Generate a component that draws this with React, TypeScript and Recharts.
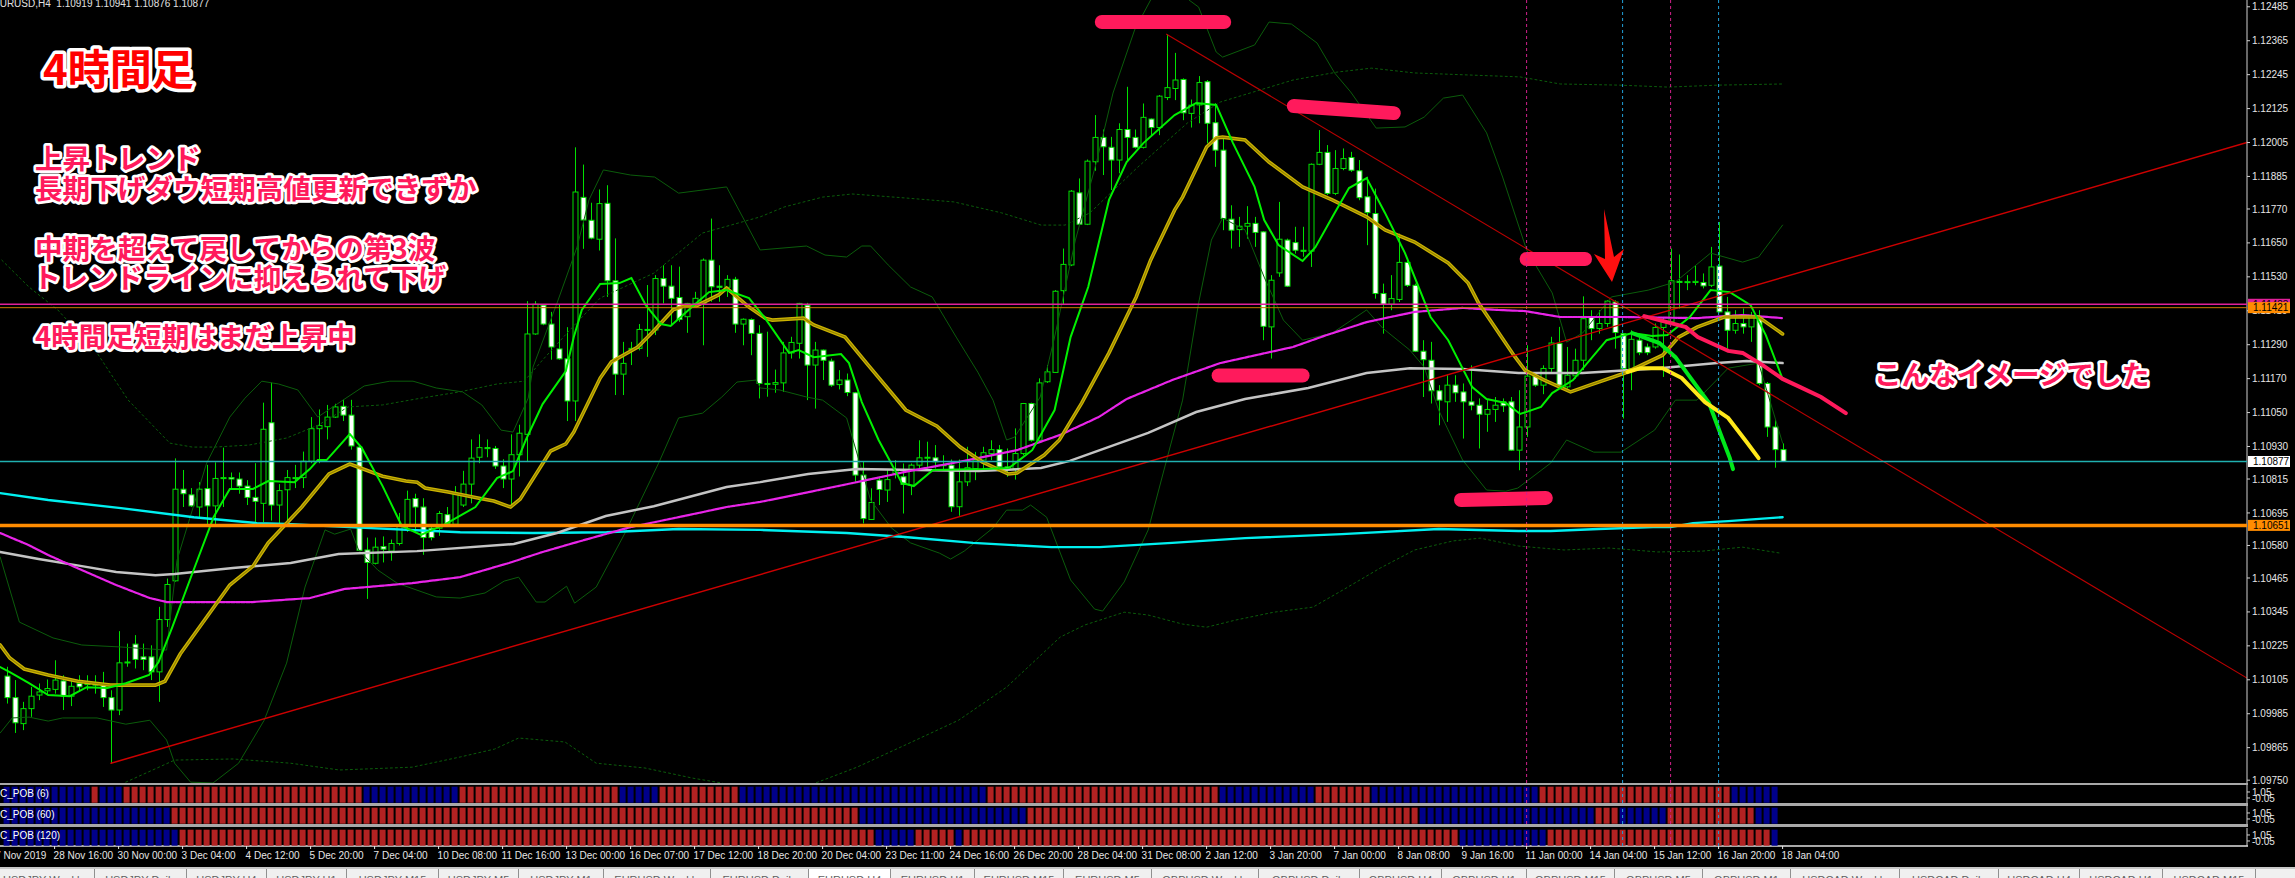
import { Bar, Cell, ComposedChart, Line, ReferenceLine, XAxis, YAxis } from "recharts"

// prices are stored in points: 110118 = 1.10118
const opens = [
  110118, 110042, 109950, 110003, 110051, 110066, 110071, 110101, 110047, 110092,
  110088, 110092, 110086, 110042, 109998, 110165, 110231, 110186, 110186, 110133,
  110318, 110455, 110779, 110759, 110716, 110781, 110720, 110817, 110820, 110815,
  110790, 110750, 110729, 111014, 110723, 110777, 110817, 110820, 110878, 110993,
  111000, 111034, 111072, 111041, 110928, 110564, 110517, 110576, 110560, 110587,
  110651, 110746, 110716, 110641, 110641, 110689, 110655, 110723, 110797, 110892,
  110926, 110923, 110861, 110815, 110901, 110973, 111328, 111430, 111363, 111275,
  111240, 111091, 111811, 111730, 111663, 111790, 111516, 111186, 111273, 111277,
  111344, 111342, 111524, 111497, 111457, 111389, 111436, 111436, 111589, 111497,
  111493, 111521, 111363, 111379, 111330, 111153, 111150, 111155, 111261, 111295,
  111430, 111218, 111271, 111232, 111149, 111165, 111120, 110829, 110672, 110811,
  110776, 110835, 110823, 110793, 110864, 110890, 110890, 110866, 110864, 110717,
  110805, 110852, 110882, 110905, 110919, 110858, 110852, 110905, 111082, 110952,
  111159, 111192, 111481, 111572, 111827, 111716, 111937, 112023, 111988, 111943,
  112051, 112023, 111988, 112088, 112058, 112164, 112196, 112228, 112108, 112138,
  112220, 112075, 111978, 111734, 111697, 111709, 111719, 111689, 111353, 111544,
  111660, 111651, 111624, 111621, 111928, 111970, 111825, 111913, 111952, 111905,
  111813, 111754, 111471, 111433, 111450, 111581, 111500, 111267, 111235, 111127,
  111088, 111147, 111123, 111088, 111076, 111044, 111061, 111088, 111088, 110917,
  110999, 111179, 111147, 111206, 111294, 111141, 111180, 111235, 111388, 111347,
  111365, 111441, 111329, 111206, 111306, 111282, 111282, 111351, 111371, 111514,
  111511, 111510, 111510, 111500, 111568, 111406, 111341, 111365, 111353, 111388,
  111153, 110999, 110919,
]
const highs = [
  110151, 110104, 110027, 110080, 110092, 110106, 110174, 110121, 110104, 110121,
  110121, 110121, 110133, 110068, 110277, 110233, 110263, 110233, 110227, 110363,
  110463, 110888, 110847, 110783, 110804, 110865, 110874, 110926, 110838, 110838,
  110811, 110871, 111085, 111156, 110797, 110847, 110865, 110912, 111034, 111061,
  111077, 111081, 111095, 111095, 110932, 110608, 110608, 110612, 110601, 110695,
  110774, 110763, 110747, 110655, 110702, 110716, 110790, 110844, 110955, 110973,
  110955, 110932, 110885, 110973, 111007, 111444, 111444, 111433, 111406, 111433,
  111352, 111988, 111927, 111792, 111839, 111854, 111666, 111300, 111300, 111363,
  111501, 111536, 111571, 111571, 111566, 111438, 111477, 111595, 111736, 111571,
  111536, 111530, 111383, 111383, 111359, 111336, 111202, 111300, 111318, 111438,
  111438, 111300, 111273, 111241, 111200, 111188, 111123, 110876, 110782, 110823,
  110846, 110882, 110870, 110870, 110952, 110947, 110935, 110899, 110884, 110884,
  110929, 110911, 110929, 110952, 110935, 110923, 110994, 111084, 111085, 111171,
  111218, 111483, 111630, 111837, 111878, 111945, 112102, 112051, 112025, 112073,
  112202, 112051, 112143, 112090, 112173, 112388, 112322, 112232, 112157, 112240,
  112226, 112144, 112025, 111783, 111742, 111780, 111742, 111692, 111536, 111795,
  111665, 111707, 111707, 111931, 112049, 111996, 111978, 111984, 111972, 111943,
  111884, 111842, 111506, 111536, 111683, 111589, 111506, 111306, 111300, 111147,
  111182, 111182, 111153, 111217, 111100, 111094, 111105, 111100, 111105, 111129,
  111288, 111188, 111217, 111318, 111353, 111282, 111276, 111461, 111412, 111412,
  111447, 111447, 111331, 111341, 111329, 111294, 111365, 111388, 111630, 111609,
  111536, 111571, 111542, 111636, 111724, 111459, 111412, 111418, 111406, 111412,
  111158, 111023, 110941,
]
const lows = [
  110021, 109917, 109927, 109974, 110033, 110051, 110056, 109998, 110012, 110062,
  110068, 110056, 110009, 109809, 109980, 110151, 110145, 110139, 110104, 110027,
  110292, 110452, 110716, 110716, 110675, 110655, 110655, 110716, 110783, 110763,
  110723, 110662, 110662, 110668, 110655, 110662, 110783, 110783, 110871, 110871,
  110955, 111031, 111020, 110919, 110560, 110391, 110513, 110520, 110526, 110580,
  110628, 110628, 110547, 110598, 110614, 110648, 110655, 110716, 110729, 110871,
  110892, 110851, 110783, 110716, 110824, 110878, 111325, 111359, 111237, 111237,
  111020, 111020, 111629, 111663, 111623, 111459, 111112, 111112, 111218, 111270,
  111247, 111324, 111436, 111359, 111371, 111332, 111430, 111288, 111442, 111442,
  111459, 111332, 111288, 111253, 111100, 111106, 111120, 111123, 111241, 111241,
  111094, 111064, 111165, 111141, 111132, 111108, 110805, 110658, 110670, 110723,
  110734, 110817, 110693, 110758, 110852, 110852, 110852, 110846, 110699, 110685,
  110790, 110811, 110852, 110882, 110852, 110823, 110813, 110899, 110947, 110947,
  111155, 111191, 111433, 111568, 111713, 111713, 111905, 111890, 111837, 111896,
  111943, 111984, 111984, 112031, 112031, 112155, 112155, 112084, 112058, 112073,
  112002, 111919, 111695, 111630, 111636, 111665, 111636, 111306, 111241, 111530,
  111494, 111612, 111601, 111565, 111925, 111819, 111819, 111907, 111901, 111801,
  111642, 111453, 111329, 111412, 111441, 111494, 111265, 111105, 111082, 111005,
  111017, 111088, 110958, 111058, 110923, 110982, 111017, 111052, 110915, 110846,
  110964, 111141, 111115, 111194, 111141, 111135, 111170, 111200, 111306, 111329,
  111353, 111276, 111029, 111129, 111253, 111253, 111276, 111176, 111365, 111418,
  111483, 111500, 111489, 111494, 111404, 111276, 111329, 111329, 111300, 111147,
  110964, 110855, 110876,
]
const closes = [
  110042, 109953, 110003, 110047, 110062, 110074, 110104, 110047, 110082, 110080,
  110094, 110086, 110042, 109998, 110165, 110168, 110177, 110177, 110133, 110318,
  110442, 110779, 110763, 110720, 110779, 110720, 110817, 110820, 110815, 110790,
  110750, 110736, 110991, 110723, 110774, 110820, 110820, 110878, 110993, 111004,
  111034, 111070, 111041, 110932, 110563, 110520, 110574, 110567, 110587, 110651,
  110743, 110716, 110608, 110608, 110693, 110658, 110763, 110797, 110889, 110926,
  110924, 110861, 110815, 110901, 110977, 111328, 111433, 111363, 111282, 111240,
  111091, 111830, 111731, 111667, 111789, 111516, 111186, 111224, 111277, 111344,
  111342, 111524, 111497, 111454, 111379, 111436, 111454, 111589, 111495, 111493,
  111521, 111363, 111380, 111330, 111153, 111150, 111156, 111261, 111298, 111436,
  111218, 111271, 111235, 111147, 111165, 111121, 110829, 110675, 110732, 110778,
  110813, 110849, 110796, 110864, 110890, 110892, 110876, 110862, 110717, 110805,
  110855, 110882, 110908, 110919, 110858, 110852, 110905, 111082, 110952, 111155,
  111194, 111479, 111574, 111833, 111716, 111939, 112023, 111990, 111943, 112051,
  112023, 111988, 112094, 112058, 112169, 112199, 112226, 112110, 112137, 112217,
  112073, 111978, 111736, 111695, 111709, 111719, 111687, 111355, 111518, 111663,
  111497, 111624, 111621, 111928, 111970, 111825, 111913, 111948, 111907, 111810,
  111757, 111471, 111433, 111453, 111581, 111500, 111267, 111237, 111127, 111094,
  111147, 111120, 111088, 111076, 111044, 111061, 111076, 111074, 110917, 110999,
  111179, 111147, 111206, 111296, 111147, 111182, 111235, 111382, 111347, 111365,
  111444, 111333, 111206, 111309, 111262, 111262, 111351, 111371, 111516, 111510,
  111513, 111514, 111498, 111565, 111406, 111341, 111365, 111353, 111388, 111153,
  110999, 110919, 110877,
]

// indicator knots: [bar, points]
const fastMa = [
  [-0.8, 110150], [0.4, 110132], [2.8, 110093], [5.2, 110051], [7.9, 110047], [10, 110079], [12.6, 110076], [14.9, 110093],
  [17.8, 110122], [19, 110168], [20.7, 110290], [23, 110465], [25.9, 110682], [27.9, 110780], [30.8, 110780], [32.7, 110808],
  [36, 110804], [37.9, 110850], [38.9, 110882], [40, 110882], [42.9, 110974], [44.4, 110925], [47, 110790], [49.4, 110649],
  [51.8, 110617], [54.9, 110656], [58.6, 110716], [61.3, 110818], [63.3, 110843], [64.9, 110953], [67, 111080], [69.9, 111197],
  [70.9, 111317], [71.9, 111413], [74.2, 111505], [76.6, 111508], [78.1, 111526], [79.9, 111430], [81.8, 111363], [83, 111356],
  [86.2, 111437], [87.8, 111476], [90, 111483], [92.8, 111455], [94.8, 111384], [97.8, 111261], [99, 111271], [100.9, 111246],
  [104.3, 111257], [105.3, 111225], [106.9, 111087], [109, 110953], [111.9, 110801], [113.4, 110790], [115.8, 110847], [122, 110850],
  [125.3, 110854], [128.2, 110917], [131, 111059], [133, 111317], [135.2, 111494], [137.8, 111802], [140, 111936], [142.1, 112003],
  [146, 112102], [148.7, 112145], [151.2, 112138], [153.3, 112003], [156, 111848], [157.2, 111731], [159, 111642], [162, 111586],
  [163.6, 111635], [166, 111756], [167.8, 111844], [170, 111879], [172.3, 111756], [174.8, 111614], [178, 111388], [180.2, 111306],
  [183.2, 111140], [185, 111098], [187.4, 111084], [189.2, 111045], [191.8, 111070], [193.2, 111119], [195.8, 111165], [200, 111306],
  [203.2, 111331], [205.7, 111321], [207.6, 111324], [210.4, 111388], [213, 111483], [215.4, 111476], [218, 111430], [219.9, 111324],
  [221.9, 111176],
]
const midMa = [
  [-0.8, 110228], [0.4, 110182], [2.2, 110143], [5.2, 110122], [8.9, 110100], [13, 110086], [18.6, 110086], [19.8, 110100],
  [21.7, 110196], [27.9, 110440], [30.8, 110507], [32.7, 110589], [36.9, 110716], [40.3, 110833], [42.9, 110868], [47, 110825],
  [49.9, 110808], [51.3, 110804], [52.3, 110783], [55.2, 110769], [58.9, 110748], [60.9, 110737], [63, 110716], [64.2, 110744],
  [68, 110914], [69.9, 110939], [70.9, 110981], [74.2, 111172], [75.6, 111229], [78.9, 111282], [81, 111342], [83.3, 111413],
  [84.7, 111427], [86.2, 111427], [89, 111466], [90, 111490], [92.8, 111423], [94.8, 111384], [95.7, 111377], [99.6, 111384],
  [100.9, 111360], [104.8, 111317], [107.7, 111218], [112.4, 111059], [116.3, 111002], [119.2, 110928], [122, 110875], [125.2, 110833],
  [126.3, 110836], [129.7, 110900], [131.6, 110953], [134.4, 111084], [137.8, 111261], [141.2, 111459], [143, 111589], [146, 111766],
  [147, 111812], [150, 111989], [151.2, 112021], [152, 112024], [154.8, 112014], [157.8, 111936], [162, 111848], [165.7, 111802],
  [170, 111742], [172.3, 111696], [176, 111653], [180.2, 111579], [182.7, 111508], [184, 111437], [188.4, 111253], [189.8, 111200],
  [192.2, 111165], [195.5, 111123], [197.9, 111147], [202.3, 111190], [207, 111253], [209, 111317], [211.3, 111352], [214.7, 111388],
  [219, 111388], [222, 111328],
]
const slowMa = [
  [-0.8, 110624], [2.8, 110581], [5.2, 110546], [9.4, 110493], [13.7, 110440], [17.9, 110394], [20, 110380], [30.7, 110380],
  [37.9, 110394], [42.2, 110426], [50.7, 110447], [56.7, 110468], [62.8, 110518], [67, 110557], [71.3, 110592], [78, 110645],
  [84, 110680], [90, 110716], [94.2, 110734], [97.2, 110751], [106.3, 110804], [112.3, 110840], [120.2, 110882], [126.3, 110917],
  [131.7, 110971], [136.5, 111034], [140, 111098], [145.7, 111165], [151.7, 111225], [160.8, 111282], [165, 111324], [170, 111370],
  [176, 111406], [182, 111420], [186.3, 111413], [189.8, 111409], [194.2, 111388], [201.8, 111388], [211.3, 111384], [217, 111395],
  [222, 111384],
]
const greyMa = [
  [-0.8, 110557], [4, 110532], [9.4, 110507], [13.7, 110486], [18.6, 110475], [21, 110479], [28.3, 110500], [35.5, 110518],
  [41.5, 110550], [51.3, 110560], [63.4, 110585], [68.8, 110624], [74.9, 110684], [80.9, 110719], [90, 110787], [94.2, 110804],
  [100.2, 110833], [106.3, 110850], [121.5, 110843], [129.3, 110854], [132.9, 110879], [142.7, 110978], [148.7, 111052], [154.8, 111098],
  [162.7, 111137], [170, 111190], [175.4, 111207], [182, 111204], [189, 111190], [197, 111190], [206.6, 111207], [213.8, 111225],
  [217.5, 111232], [222, 111225],
]
const cyanMa = [
  [-0.8, 110765], [5.2, 110741], [14.3, 110712], [23.4, 110680], [31.3, 110659], [35, 110656], [42.9, 110645], [56.7, 110627],
  [65.8, 110624], [75, 110627], [84, 110638], [94.2, 110635], [105, 110624], [112.3, 110610], [120.8, 110589], [130.6, 110574],
  [136.6, 110574], [145.7, 110589], [154.8, 110606], [166.9, 110620], [179, 110638], [189, 110631], [193, 110631], [199, 110638],
  [205.8, 110645], [208, 110645], [210.8, 110659], [215.2, 110666], [222, 110680],
]
const bandUpper = [
  [-0.8, 110539], [1.6, 110309], [5.8, 110253], [9.4, 110228], [14.3, 110221], [17.9, 110214], [20, 110210], [21.3, 110528],
  [25, 110871], [27.9, 111034], [29.8, 111101], [31.9, 111161], [34, 111151], [36.4, 111130], [38.9, 111034], [41.3, 111080],
  [44.7, 111144], [47.9, 111161], [50.8, 111161], [53.7, 111137], [57, 111123], [59.4, 111077], [61.8, 110988], [63.3, 110981],
  [65.2, 111101], [65.8, 111211], [68.8, 111437], [71.3, 111635], [72.8, 111802], [74.6, 111908], [78, 111890], [81, 111883],
  [84, 111826], [90, 111848], [94.2, 111625], [100, 111639], [102.3, 111607], [105, 111600], [106.9, 111639], [108, 111639],
  [110.2, 111572], [113, 111494], [115.7, 111459], [118.7, 111317], [121.4, 111193], [123.3, 111094], [125, 110953], [126, 110963],
  [129.2, 111105], [131, 111317], [133.6, 111660], [136.3, 111943], [138.3, 112180], [141, 112403], [143, 112509], [145.5, 112580],
  [147.8, 112509], [149, 112484], [151.2, 112325], [152, 112307], [156, 112350], [157.8, 112431], [160.6, 112424], [163.8, 112357],
  [166, 112251], [168, 112184], [171.2, 112056], [174.8, 112060], [177.2, 112095], [179.6, 112162], [182, 112173], [185, 112039],
  [187, 111883], [190, 111625], [193.2, 111473], [195, 111299], [197, 111331], [200.6, 111459], [205.2, 111483], [208.6, 111512],
  [213, 111614], [217, 111582], [219, 111600], [222, 111713],
]
const bandLower = [
  [-0.8, 109917], [0.7, 109970], [2.8, 109973], [5.2, 109959], [7, 109970], [11.3, 109970], [14.9, 109948], [17.9, 109962],
  [20, 109892], [21, 109810], [23, 109743], [25.8, 109740], [29, 109810], [32.2, 109962], [35, 110164], [37.3, 110433],
  [39.8, 110635], [41, 110620], [43, 110638], [44, 110564], [46.4, 110493], [48.8, 110447], [53.7, 110398], [56.7, 110394],
  [59.8, 110412], [62.2, 110454], [64, 110468], [66.2, 110380], [67.3, 110380], [70, 110436], [71, 110376], [73.7, 110433],
  [77.3, 110624], [81.5, 110871], [84, 111031], [87, 111048], [89.4, 111105], [91.3, 111158], [93.7, 111165], [94.2, 111137],
  [96.6, 111130], [100, 111105], [102, 111094], [105, 111031], [108, 110741], [110.6, 110642], [113, 110589], [116.6, 110553],
  [118, 110532], [119.7, 110560], [123.3, 110642], [125, 110705], [127, 110705], [128, 110723], [130, 110680], [133, 110458],
  [136, 110355], [137, 110348], [139.7, 110451], [142.7, 110635], [145, 110882], [147, 111094], [149, 111437], [150.6, 111660],
  [152, 111738], [154.8, 111696], [157.2, 111529], [159.6, 111377], [162, 111306], [165.7, 111331], [170, 111413], [172, 111349],
  [175.4, 111271], [177.2, 111211], [179, 111059], [182, 110882], [185, 110776], [187.4, 110772], [188.9, 110783], [193, 110871],
  [195, 110953], [198.4, 110910], [201.8, 110910], [206, 110988], [208.6, 111094], [211.3, 111094], [215.2, 111207], [219, 111225],
  [219.9, 111140], [222, 110942],
]
const outerUpper = [
  [-0.6, 111589], [2.8, 111494], [6.4, 111413], [11.3, 111261], [15.2, 111094], [20.4, 110942], [23.2, 110928], [26, 110928],
  [30.3, 110935], [35, 110960], [39, 111006], [42.7, 111070], [47, 111077], [51.8, 111101], [56.6, 111123], [61.3, 111151],
  [64.7, 111161], [67, 111236], [71, 111360], [74.2, 111455], [80.9, 111543], [87, 111685], [94.2, 111742], [97.2, 111777],
  [102, 111812], [105.7, 111823], [112.3, 111809], [118.4, 111795], [124.4, 111756], [129.3, 111713], [132.3, 111713], [135.4, 111756],
  [141.4, 111918], [147.6, 112074], [151.7, 112148], [160.8, 112226], [166.3, 112254], [170.6, 112268], [176, 112251], [189.2, 112237],
  [194.2, 112212], [201.5, 112208], [207.7, 112201], [214, 112208], [222, 112212],
]
const outerLower = [
  [14.9, 109743], [21, 109821], [28.3, 109825], [35.5, 109810], [41.6, 109786], [50.7, 109796], [56.7, 109832], [61, 109860],
  [64, 109899], [69.8, 109885], [73.7, 109810], [79.8, 109793], [85.8, 109757], [89.4, 109740], [95, 109680], [101.4, 109743],
  [106.3, 109796], [112.3, 109874], [119, 109962], [125, 110079], [131.7, 110256], [134.8, 110299], [139.7, 110344], [142.7, 110334],
  [147, 110302], [150, 110291], [153.6, 110316], [158.4, 110344], [163.3, 110362], [167, 110422], [171.7, 110500], [176, 110564],
  [180.8, 110596], [184.2, 110606], [189, 110578], [194.7, 110564], [200.3, 110571], [206.4, 110557], [212, 110560], [217, 110574],
  [221.7, 110553],
]
const trendUp = [[13.05, 109810], [280.05, 112005]]
const trendDown = [[145, 112388], [280.05, 110111]]

// hand-drawn marks on the chart
const sketchGreen = [[203.2, 111331], [206.6, 111296], [208.6, 111246], [210.4, 111176], [212.8, 111084], [214.2, 110978], [215.4, 110889], [215.8, 110850]]
const sketchYellow = [[202.6, 111193], [204.2, 111207], [207, 111207], [209.4, 111172], [212.3, 111087], [215.2, 111031], [217.5, 110946], [219, 110889]]
const sketchPink = [[204.7, 111391], [209.9, 111352], [211.4, 111317], [215.2, 111268], [217, 111261], [219.5, 111218], [222, 111169], [224.2, 111140], [226.8, 111105], [229.9, 111048]]
const pinkBars = [
  [[136.9, 112431], [152.2, 112431]],
  [[160.9, 112134], [173.4, 112109]],
  [[190, 111593], [197.3, 111593]],
  [[151.5, 111181], [162, 111181]],
  [[181.8, 110741], [192.4, 110748]],
]

const priceTicks = [
  1.12485, 1.12365, 1.12245, 1.12125, 1.12005, 1.11885, 1.1177, 1.1165, 1.1153, 1.1141, 1.1129, 1.1117,
  1.1105, 1.1093, 1.10815, 1.10695, 1.1058, 1.10465, 1.10345, 1.10225, 1.10105, 1.09985, 1.09865, 1.0975,
]
const timeTicks = [-2, 6, 14, 22, 30, 38, 46, 54, 62, 70, 78, 86, 94, 102, 110, 118, 126, 134, 142, 150, 158, 166, 174, 182, 190, 198, 206, 214, 222]
const timeLabels = [
  "27 Nov 2019", "28 Nov 16:00", "30 Nov 00:00", "3 Dec 04:00", "4 Dec 12:00", "5 Dec 20:00", "7 Dec 04:00", "10 Dec 08:00",
  "11 Dec 16:00", "13 Dec 00:00", "16 Dec 07:00", "17 Dec 12:00", "18 Dec 20:00", "20 Dec 04:00", "23 Dec 11:00", "24 Dec 16:00",
  "26 Dec 20:00", "28 Dec 04:00", "31 Dec 08:00", "2 Jan 12:00", "3 Jan 20:00", "7 Jan 00:00", "8 Jan 08:00", "9 Jan 16:00",
  "11 Jan 00:00", "14 Jan 04:00", "15 Jan 12:00", "16 Jan 20:00", "18 Jan 04:00",
]
const pinkSessions = [190, 208]
const blueSessions = [202, 214]

// [red?, how many bars] from the first bar on
const pob6Runs = [[0, 11], [1, 1], [0, 3], [1, 30], [0, 12], [1, 20], [0, 5], [1, 10], [0, 31], [1, 29], [0, 12], [1, 7], [0, 21], [1, 24], [0, 6]]
const pob60Runs = [[0, 21], [1, 86], [0, 21], [1, 49], [0, 22], [1, 3], [0, 6], [1, 11], [0, 3]]
const pob120Runs = [[0, 22], [1, 87], [0, 5], [1, 5], [0, 1], [1, 62], [0, 11], [1, 28], [0, 1]]

const tabNames = [
  "USDJPY Weekly", "USDJPY Daily", "USDJPY H4", "USDJPY H1", "USDJPY M15", "USDJPY M5", "USDJPY M1", "EURUSD Weekly", "EURUSD Daily", "EURUSD H4",
  "EURUSD H1", "EURUSD M15", "EURUSD M5", "GBPUSD Weekly", "GBPUSD Daily", "GBPUSD H4", "GBPUSD H1", "GBPUSD M15", "GBPUSD M5", "GBPUSD M1",
  "USDCAD Weekly", "USDCAD Daily", "USDCAD H4", "USDCAD H1", "USDCAD M15",
]
const tabEdges = [-6, 95, 187, 267, 347, 439, 519, 604, 711, 809, 891, 975, 1064, 1152, 1259, 1360, 1442, 1527, 1615, 1703, 1791, 1900, 1999, 2080, 2163, 2256]

const FONT = '"Liberation Sans", Arial, sans-serif'
const JP_FONT = '"Noto Sans CJK JP", sans-serif'
const X_DOMAIN = [-0.825, 280.05]
const PRICE_DOMAIN = [1.0974, 1.12509]
const PINK = "#ff1a5c"

const candleRows = opens.map((open, k) => ({
  k,
  open: open / 1e5,
  high: highs[k] / 1e5,
  low: lows[k] / 1e5,
  close: closes[k] / 1e5,
}))

const toPoints = (knots: number[][]) => knots.map(([k, p]) => ({ k, p: p / 1e5 }))

const expandRuns = (runs: number[][]) => {
  const rows: { k: number; red: number; span: number[] }[] = []
  runs.forEach(([red, count]) => {
    for (let i = 0; i < count; i++) rows.push({ k: rows.length, red, span: [-0.92, 2.02] })
  })
  return rows
}

const lineStyles = [
  { knots: outerUpper, stroke: "#0b5c0b", width: 1, dash: "2 3" },
  { knots: outerLower, stroke: "#0b5c0b", width: 1, dash: "2 3" },
  { knots: bandUpper, stroke: "#0b5c0b", width: 1 },
  { knots: bandLower, stroke: "#0b5c0b", width: 1 },
  { knots: cyanMa, stroke: "#00f0f0", width: 2.4 },
  { knots: greyMa, stroke: "#c4c4c4", width: 2.5 },
  { knots: slowMa, stroke: "#e824e8", width: 2.2, dash: "4 1" },
  { knots: midMa, stroke: "#ccb400", width: 3.6 },
  { knots: midMa, stroke: "#928000", width: 1.1 },
  { knots: fastMa, stroke: "#00f000", width: 2 },
  { knots: trendUp, stroke: "#cc0000", width: 1.4 },
  { knots: trendDown, stroke: "#b80000", width: 1.2 },
  { knots: sketchGreen, stroke: "#00e81a", width: 4 },
  { knots: sketchYellow, stroke: "#ffe81a", width: 4 },
  { knots: sketchPink, stroke: PINK, width: 4 },
  ...pinkBars.map((knots) => ({ knots, stroke: PINK, width: 14 })),
]

const Candle = (props: any) => {
  const { x, y, width, height, payload } = props
  const { open, close, high, low } = payload
  const perUnit = height / (high - low)
  const center = Math.round(x + width / 2) + 0.5
  const top = y + (high - Math.max(open, close)) * perUnit
  const bodyHeight = Math.max(Math.abs(open - close) * perUnit, 1)
  return (
    <g>
      <line x1={center} x2={center} y1={y} y2={y + height} stroke="#00e000" strokeWidth={1} />
      <rect
        x={center - 2.5}
        y={top}
        width={5}
        height={bodyHeight}
        fill={close < open ? "#ffffff" : "#000000"}
        stroke="#00e000"
        strokeWidth={1}
      />
    </g>
  )
}

const PriceTag = ({ viewBox, text, fill, color }: any) => {
  const tagX = viewBox.x + viewBox.width + 1
  return (
    <g>
      <rect x={tagX} y={viewBox.y - 5.5} width={42} height={11} fill={fill} />
      <text x={tagX + 5} y={viewBox.y + 3.6} fill={color} fontSize={10} fontFamily={FONT}>
        {text}
      </text>
    </g>
  )
}

const TimeTick = ({ x, y, payload }: any) => (
  <text x={x - 1} y={y + 8} fill="#e6e6e6" fontSize={10} fontFamily={FONT}>
    {timeLabels[timeTicks.indexOf(payload.value)]}
  </text>
)

const PobPanel = ({ runs, top, withTime }: { runs: number[][]; top: number; withTime?: boolean }) => (
  <div style={{ position: "absolute", left: 0, top }}>
    <ComposedChart
      width={2295}
      height={withTime ? 42 : 18}
      data={expandRuns(runs)}
      margin={{ top: 0, right: 0, bottom: 0, left: 0 }}
    >
      <XAxis
        dataKey="k"
        type="number"
        domain={X_DOMAIN}
        allowDataOverflow
        hide={!withTime}
        ticks={timeTicks}
        interval={0}
        height={24}
        tickSize={3}
        tickMargin={2}
        axisLine={false}
        tickLine={{ stroke: "#e6e6e6" }}
        tick={<TimeTick />}
      />
      <YAxis
        orientation="right"
        width={48}
        type="number"
        domain={[-0.97, 2.33]}
        ticks={[1.05, -0.05]}
        interval={0}
        tickSize={3}
        tickMargin={2}
        tick={{ fill: "#e6e6e6", fontSize: 10, fontFamily: FONT }}
        axisLine={{ stroke: "#d0d0d0" }}
        tickLine={{ stroke: "#d0d0d0" }}
      />
      <Bar dataKey="span" barSize={6} isAnimationActive={false}>
        {expandRuns(runs).map((row) => (
          <Cell key={row.k} fill={row.red ? "#b22222" : "#00008b"} />
        ))}
      </Bar>
      {pinkSessions.map((k) => (
        <ReferenceLine key={k} x={k} stroke="#d0208a" strokeDasharray="3 3" />
      ))}
      {blueSessions.map((k) => (
        <ReferenceLine key={k} x={k} stroke="#20a0d8" strokeDasharray="3 3" />
      ))}
    </ComposedChart>
  </div>
)

const outlined = { stroke: "#ffffff", strokeLinejoin: "round" as const, paintOrder: "stroke", fontFamily: JP_FONT, fontWeight: 700 }

const notes = [
  { text: "上昇トレンド", x: 35, y: 169 },
  { text: "長期下げダウ短期高値更新できずか", x: 35, y: 199 },
  { text: "中期を超えて戻してからの第3波", x: 35, y: 259 },
  { text: "トレンドラインに抑えられて下げ", x: 33, y: 288 },
  { text: "4時間足短期はまだ上昇中", x: 35, y: 347 },
  { text: "こんなイメージでした", x: 1874, y: 385 },
]

const separators = [
  { top: 783, height: 2 },
  { top: 803, height: 3 },
  { top: 824, height: 3 },
  { top: 845, height: 2 },
]

export default function App() {
  return (
    <div style={{ position: "fixed", left: 0, top: 0, width: 2295, height: 878, background: "#000", overflow: "hidden" }}>
      <div style={{ position: "absolute", left: 0, top: 0 }}>
        <ComposedChart width={2295} height={793} data={candleRows} margin={{ top: 0, right: 0, bottom: 10, left: 0 }}>
          <XAxis dataKey="k" type="number" domain={X_DOMAIN} allowDataOverflow hide />
          <YAxis
            orientation="right"
            width={48}
            type="number"
            domain={PRICE_DOMAIN}
            allowDataOverflow
            ticks={priceTicks}
            interval={0}
            tickFormatter={(v: number) => v.toFixed(5)}
            tickSize={3}
            tickMargin={2}
            tick={{ fill: "#e6e6e6", fontSize: 10, fontFamily: FONT }}
            axisLine={{ stroke: "#d0d0d0" }}
            tickLine={{ stroke: "#d0d0d0" }}
          />
          <Bar dataKey={(row: any) => [row.low, row.high]} barSize={6} shape={<Candle />} isAnimationActive={false} />
          {lineStyles.map((s, i) => (
            <Line
              key={i}
              data={toPoints(s.knots)}
              dataKey="p"
              type="linear"
              stroke={s.stroke}
              strokeWidth={s.width}
              strokeDasharray={s.dash}
              strokeLinecap="round"
              dot={false}
              activeDot={false}
              isAnimationActive={false}
            />
          ))}
          {pinkSessions.map((k) => (
            <ReferenceLine key={k} x={k} stroke="#d0208a" strokeDasharray="3 3" />
          ))}
          {blueSessions.map((k) => (
            <ReferenceLine key={k} x={k} stroke="#20a0d8" strokeDasharray="3 3" />
          ))}
        </ComposedChart>
      </div>

      {/* second layer so the price tags sit above the axis labels */}
      <div style={{ position: "absolute", left: 0, top: 0 }}>
        <ComposedChart width={2295} height={793} data={candleRows} margin={{ top: 0, right: 48, bottom: 10, left: 0 }}>
          <XAxis dataKey="k" type="number" domain={X_DOMAIN} allowDataOverflow hide />
          <YAxis type="number" domain={PRICE_DOMAIN} allowDataOverflow hide />
          <ReferenceLine y={1.11433} stroke="#e0209a" strokeWidth={1.5} label={<PriceTag text="1.11433" fill="#e0209a" color="#000" />} />
          <ReferenceLine y={1.11421} stroke="#c87800" strokeWidth={1} label={<PriceTag text="1.11421" fill="#ff8c00" color="#000" />} />
          <ReferenceLine y={1.10877} stroke="#20b0b0" strokeWidth={1.5} label={<PriceTag text="1.10877" fill="#ffffff" color="#000" />} />
          <ReferenceLine y={1.10651} stroke="#ff8c00" strokeWidth={3.5} label={<PriceTag text="1.10651" fill="#ff8c00" color="#000" />} />
        </ComposedChart>
      </div>

      {separators.map((s) => (
        <div key={s.top} style={{ position: "absolute", left: 0, top: s.top, width: 2248, height: s.height, background: "#a8a8a8" }} />
      ))}
      <PobPanel runs={pob6Runs} top={785} />
      <PobPanel runs={pob60Runs} top={806.2} />
      <PobPanel runs={pob120Runs} top={827.6} withTime />

      {["C_POB (6)", "C_POB (60)", "C_POB (120)"].map((name, i) => (
        <div
          key={name}
          style={{ position: "absolute", left: 0, top: [788, 809, 830][i], color: "#fff", font: `10px ${FONT}`, lineHeight: "12px" }}
        >
          {name}
        </div>
      ))}

      <div style={{ position: "absolute", left: 0, top: 867, width: 2295, height: 2, background: "#c8c8c8" }} />
      <div style={{ position: "absolute", left: 0, top: 869, width: 2295, height: 9, background: "#f0f0f0", overflow: "hidden" }}>
        {tabNames.map((name, i) => (
          <div
            key={name}
            style={{
              position: "absolute",
              left: tabEdges[i],
              width: tabEdges[i + 1] - tabEdges[i] - 1,
              top: 0,
              height: 9,
              borderRight: "1px solid #909090",
              background: name === "EURUSD H4" ? "#ffffff" : "transparent",
              color: "#606060",
              font: `11px ${FONT}`,
              lineHeight: "14px",
              paddingTop: 4,
              boxSizing: "content-box",
              textAlign: "center",
              whiteSpace: "nowrap",
              overflow: "hidden",
            }}
          >
            {name}
          </div>
        ))}
      </div>

      <svg width={2295} height={878} style={{ position: "absolute", left: 0, top: 0, pointerEvents: "none" }}>
        <text x={-7} y={7} fill="#e0e0e0" fontSize={10} fontFamily={FONT} xmlSpace="preserve">
          EURUSD,H4  1.10919 1.10941 1.10876 1.10877
        </text>
        <text x={43} y={85} fontSize={42} fill="#ff0000" strokeWidth={7} {...outlined}>
          4時間足
        </text>
        {notes.map((n) => (
          <text key={n.text} x={n.x} y={n.y} fontSize={27.6} fill={PINK} strokeWidth={5.5} {...outlined}>
            {n.text}
          </text>
        ))}
        <polygon points="1604,209 1614,257 1624,249 1612,282 1594,254 1605,259" fill="#ff1010" />
      </svg>
    </div>
  )
}
